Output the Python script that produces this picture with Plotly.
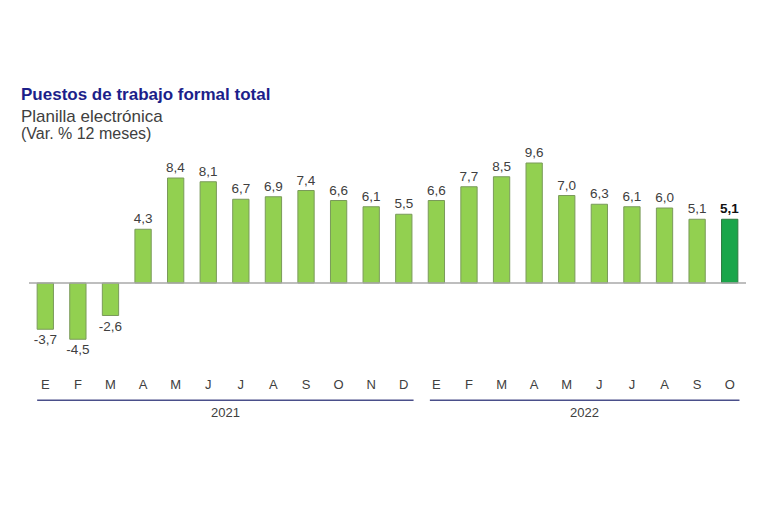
import plotly.graph_objects as go

# Puestos de trabajo formal total, var. % 12 meses
meses = ["E", "F", "M", "A", "M", "J", "J", "A", "S", "O", "N", "D",
         "E", "F", "M", "A", "M", "J", "J", "A", "S", "O"]
valores = [-3.7, -4.5, -2.6, 4.3, 8.4, 8.1, 6.7, 6.9, 7.4, 6.6, 6.1, 5.5,
           6.6, 7.7, 8.5, 9.6, 7.0, 6.3, 6.1, 6.0, 5.1, 5.1]
anios = ["2021", "2022"]

n = len(valores)
x = list(range(n))
etiquetas = [f"{v:.1f}".replace(".", ",") for v in valores]
etiquetas[-1] = "<b>" + etiquetas[-1] + "</b>"
colores = ["#92d050"] * (n - 1) + ["#1aa64a"]
bordes = ["#7a9a5a"] * (n - 1) + ["#2b7a3e"]
text_colors = ["#404040"] * (n - 1) + ["#111111"]

# page body adds 8px offset, so pixel positions below are shifted by -8
plot_top, plot_bottom, plot_left, plot_right = 137, 367, 21, 738
H = plot_bottom - plot_top
W = plot_right - plot_left
FONT = "Liberation Sans, Arial"

fig = go.Figure()
fig.add_trace(go.Bar(
    x=x, y=valores,
    marker=dict(color=colores, line=dict(color=bordes, width=1)),
    text=etiquetas, textposition="outside", constraintext="none",
    textfont=dict(family=FONT, size=13.5, color=text_colors),
    cliponaxis=False, width=0.5,
))

# zero line
fig.add_hline(y=0, line=dict(color="#a8a8a8", width=1.5))

# year underlines and labels
for a, (x0, x1) in zip(anios, [(-0.25, 11.3), (11.8, 21.3)]):
    fig.add_shape(type="line", xref="x", yref="paper", x0=x0, x1=x1,
                  y0=-0.11, y1=-0.11, line=dict(color="#4a4f8a", width=1.5))
    fig.add_annotation(x=(x0 + x1) / 2, y=-0.165, xref="x", yref="paper",
                       text=a, showarrow=False, yanchor="middle",
                       font=dict(family=FONT, size=13, color="#404040"))

# titles (pixel positions converted to paper coords)
titulos = [
    ("<b>Puestos de trabajo formal total</b>", 87, 17, "#1c1f8a"),
    ("Planilla electrónica", 108, 17, "#404040"),
    ("(Var. % 12 meses)", 125, 16, "#404040"),
]
for txt, py, size, col in titulos:
    fig.add_annotation(x=(11 - plot_left) / W, y=(plot_bottom - py) / H,
                       xref="paper", yref="paper", text=txt, showarrow=False,
                       xanchor="left", yanchor="middle",
                       font=dict(family=FONT, size=size, color=col))

fig.update_layout(
    width=760, height=507,
    margin=dict(l=plot_left, r=760 - plot_right, t=plot_top, b=507 - plot_bottom),
    paper_bgcolor="white", plot_bgcolor="white",
    showlegend=False, separators=",.",
    xaxis=dict(tickmode="array", tickvals=x, ticktext=meses, range=[-0.5, n - 0.5],
               showgrid=False, zeroline=False, showline=False, ticks="",
               tickfont=dict(family=FONT, size=13, color="#404040")),
    yaxis=dict(range=[-7.36, 11.04], visible=False, showgrid=False, zeroline=False),
)

fig.write_html("out.html")
